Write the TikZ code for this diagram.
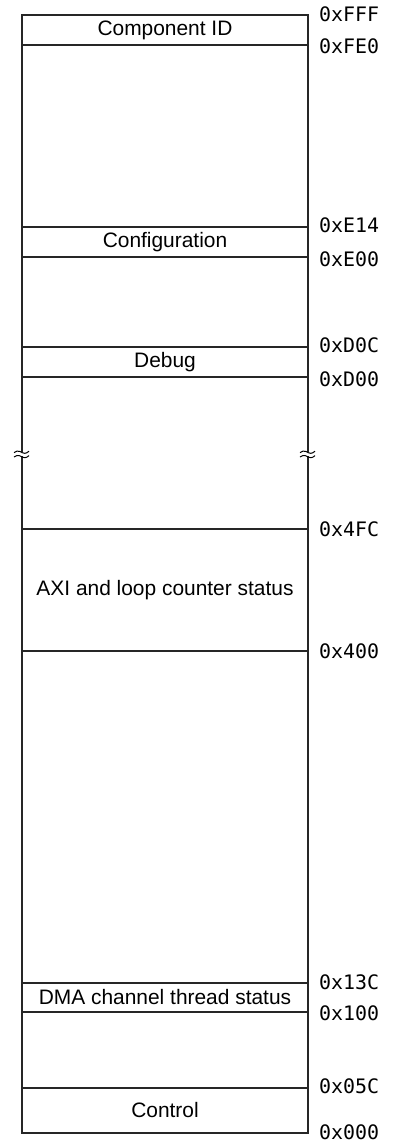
\documentclass[tikz,border=0pt]{standalone}
\usepackage{fontspec}
\setmainfont{Liberation Sans}
\newfontfamily\addrfont{DejaVu Sans Mono}
\begin{document}
\begin{tikzpicture}[x=1bp,y=-1bp,
  frameline/.style={draw=black!85, line width=1.3bp},
  sepline/.style={draw=black!85, line width=1.1bp},
  boxtext/.style={font=\fontsize{21}{23}\selectfont, inner sep=0pt},
  addr/.style={anchor=west, font=\addrfont\fontsize{20}{22}\selectfont, inner sep=0pt},
  tildeline/.style={draw=black, line width=1bp}]
\useasboundingbox (0,0) rectangle (400,1144);
\def\xl{22}\def\xr{308}
% separators
\foreach \yy in {45,227,257,347,377,529,651,983,1012,1088}
  \draw[sepline] (\xl,\yy) -- (\xr,\yy);
% frame
\draw[frameline] (\xl,15) rectangle (\xr,1133);
% breaks
\foreach \xx/\nm in {22/bl,308/br}{
  \coordinate (\nm) at (\xx,454);
  \fill[white] (\xx-1.5,452.2) rectangle (\xx+1.5,455.8);
  \draw[tildeline] (\xx-8,452.6) .. controls (\xx-4,449.2) and (\xx+0,452.6) .. (\xx+0,452.6)
     .. controls (\xx+1,453.4) and (\xx+4,454.2) .. (\xx+7,451.2);
  \draw[tildeline] (\xx-8,457.0) .. controls (\xx-4,453.6) and (\xx+0,457.0) .. (\xx+0,457.0)
     .. controls (\xx+1,457.8) and (\xx+4,458.6) .. (\xx+7,455.6);
}
% box texts
\node[boxtext] (compid) at (165,30) {Component ID};
\node[boxtext] (config) at (165,242) {Configuration};
\node[boxtext] (debug) at (165,362) {Debug};
\node[boxtext] (axi) at (165,590) {AXI and loop counter status};
\node[boxtext] (dma) at (165,997.5) {DMA channel thread status};
\node[boxtext] (ctrl) at (165,1110.5) {Control};
% addresses
\node[addr] (aFFF) at (319,14) {0xFFF};
\node[addr] (aFE0) at (319,46) {0xFE0};
\node[addr] (aE14) at (319,225) {0xE14};
\node[addr] (aE00) at (319,259) {0xE00};
\node[addr] (aD0C) at (319,345) {0xD0C};
\node[addr] (aD00) at (319,379) {0xD00};
\node[addr] (a4FC) at (319,529) {0x4FC};
\node[addr] (a400) at (319,651) {0x400};
\node[addr] (a13C) at (319,982) {0x13C};
\node[addr] (a100) at (319,1013) {0x100};
\node[addr] (a05C) at (319,1086) {0x05C};
\node[addr] (a000) at (319,1132) {0x000};
\end{tikzpicture}
\end{document}
